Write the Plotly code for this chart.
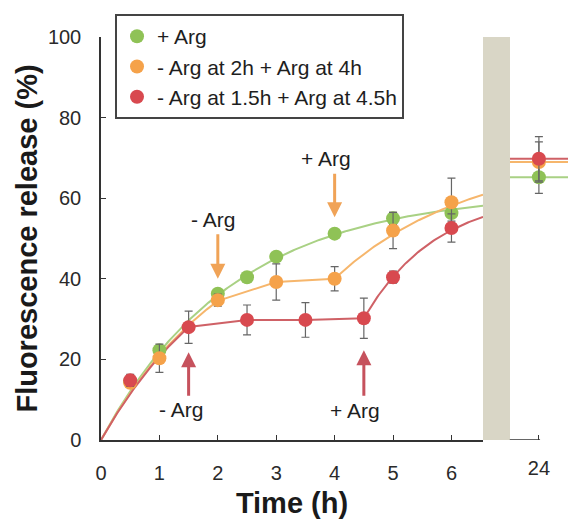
import numpy as np
import plotly.graph_objects as go

# ---- measured release (%) ----
T_PLUS = [0.5, 1, 2, 2.5, 3, 4, 5, 6]
V_PLUS = [14.5, 22.3, 36.3, 40.4, 45.5, 51.2, 55.0, 56.3]
E_PLUS = [1.0, 1.0, 1.0, 1.0, 1.0, 1.0, 1.5, 2.0]

T_2H = [0.5, 1, 2, 3, 4, 5, 6]
V_2H = [14.2, 20.3, 34.7, 39.2, 40.0, 52.0, 59.0]
E_2H = [1.0, 3.5, 1.5, 4.5, 3.0, 4.5, 6.0]

T_15H = [0.5, 1.5, 2.5, 3.5, 4.5, 5, 6]
V_15H = [14.8, 28.0, 29.8, 29.8, 30.2, 40.4, 52.6]
E_15H = [1.5, 4.0, 3.7, 4.3, 5.0, 1.5, 3.5]

# 24 h end points
V24 = {"plus": 65.2, "2h": 69.0, "15h": 69.8}
E24 = {"plus": 4.0, "2h": 5.0, "15h": 5.5}

NAMES = {"plus": "+ Arg",
         "2h": "- Arg at 2h + Arg at 4h",
         "15h": "- Arg at 1.5h + Arg at 4.5h"}

# fitted first-order release model: plateau A, rate k (1/h)
RISE = {"plus": (61.7, 0.437), "2h": (59.0, 0.44), "15h": (58.0, 0.44)}
RESUME = {"2h": (71.0, 0.44), "15h": (61.5, 0.80)}
STOP = {"2h": 2.0, "15h": 1.5}      # arginine removed
RESTART = {"2h": 4.0, "15h": 4.5}   # arginine added back

# arrows: (time, label, tip value, shaft px, label shift px, colour key)
EVENTS = [
    (2.0, "- Arg", 40.0, -46, (-5, 59), "2h"),
    (4.0, "+ Arg", 55.3, -45, (-9, 59), "2h"),
    (1.5, "- Arg", 21.8, 45, (-8, -57), "15h"),
    (4.5, "+ Arg", 22.3, 47, (-9, -60), "15h"),
]

MARKER = {"plus": "#8fc256", "2h": "#f5a24a", "15h": "#d8494f"}
LINE = {"plus": "#a9d184", "2h": "#f6b66c", "15h": "#cf6166"}
ARROW = {"2h": "#f0a357", "15h": "#c6525d"}

X_END = 6.54
FONT = "Arial, Liberation Sans, Helvetica, sans-serif"


def rise(key, t):
    a, k = RISE[key]
    return a * (1 - np.exp(-k * t))


def resume(key, t, t0, v0):
    a, k = RESUME[key]
    return a - (a - v0) * np.exp(-k * (t - t0))


def curve(key, t_pts, v_pts):
    if key == "plus":
        t = np.linspace(0, X_END, 200)
        return t, rise(key, t)
    t_stop, t_re = STOP[key], RESTART[key]
    t1 = np.linspace(0, t_stop, 80)
    y1 = rise(key, t1)
    mid_t = [t for t in t_pts if t_stop < t <= t_re]
    mid_v = [v for t, v in zip(t_pts, v_pts) if t_stop < t <= t_re]
    v_re = mid_v[-1]
    t2 = np.linspace(t_re, X_END, 80)
    y2 = resume(key, t2, t_re, v_re)
    return (np.concatenate([t1, mid_t[:-1], t2]),
            np.concatenate([y1, mid_v[:-1], y2]))


series = [("plus", T_PLUS, V_PLUS, E_PLUS),
          ("2h", T_2H, V_2H, E_2H),
          ("15h", T_15H, V_15H, E_15H)]

fig = go.Figure()

for key, t, v, e in series:
    cx, cy = curve(key, t, v)
    fig.add_trace(go.Scatter(x=cx, y=cy, mode="lines", showlegend=False,
                             line=dict(color=LINE[key], width=2),
                             hoverinfo="skip", xaxis="x", yaxis="y"))

for key, t, v, e in series:
    fig.add_trace(go.Scatter(
        x=t, y=v, mode="markers", name=NAMES[key], legendgroup=key,
        marker=dict(color=MARKER[key], size=14, line=dict(width=0)),
        error_y=dict(type="data", array=e, visible=True, color="#666666",
                     thickness=1.2, width=4),
        xaxis="x", yaxis="y"))

for key, *_ in series:
    fig.add_trace(go.Scatter(
        x=[24], y=[V24[key]], mode="markers", showlegend=False,
        legendgroup=key,
        marker=dict(color=MARKER[key], size=14, line=dict(width=0)),
        error_y=dict(type="data", array=[E24[key]], visible=True,
                     color="#666666", thickness=1.2, width=4),
        error_x=dict(type="constant", value=0.52, visible=True,
                     color=LINE[key], thickness=2, width=0),
        xaxis="x2", yaxis="y"))

for t, label, tip, shaft, (dx, dy), key in EVENTS:
    # vertical arrow pointing at the event time
    fig.add_annotation(x=t, y=tip, xref="x", yref="y", text="",
                       showarrow=True, ax=0, ay=shaft, arrowhead=2,
                       arrowsize=1.0, arrowwidth=3,
                       arrowcolor=ARROW[key], standoff=0, startstandoff=0)
    # label beyond the arrow tail
    fig.add_annotation(x=t, y=tip, xref="x", yref="y", text=label,
                       showarrow=False, xshift=dx, yshift=dy,
                       font=dict(family=FONT, size=21, color="#1e1e1e"))

split = 0.818
bar_end = 0.8758

# axis break band
fig.add_shape(type="rect", xref="paper", yref="paper",
              x0=split, x1=bar_end, y0=0, y1=1,
              fillcolor="#d9d6c6", line=dict(width=0), layer="above")
# short axis stub under the 24 h point
fig.add_shape(type="line", xref="x2", yref="y", x0=23.5, x1=24.02,
              y0=0, y1=0, line=dict(color="#333333", width=1.5))

tick_font = dict(family=FONT, size=20, color="#2a2a2a")
title_font = dict(family=FONT, size=29, color="#1a1a1a")

fig.update_layout(
    width=568, height=522,
    margin=dict(l=101, r=0, t=37, b=82),
    paper_bgcolor="white", plot_bgcolor="white",
    showlegend=True,
    legend=dict(x=0.03, y=1.057, xanchor="left", yanchor="top",
                bgcolor="white", bordercolor="#444444", borderwidth=2,
                font=dict(family=FONT, size=21, color="#1e1e1e"),
                tracegroupgap=0),
    xaxis=dict(domain=[0, split], range=[0, X_END], dtick=1, tick0=0,
               showline=True, linecolor="#333333", linewidth=1.5,
               ticks="inside", ticklen=5, tickcolor="#333333",
               showgrid=False, zeroline=False, tickfont=tick_font,
               ticklabelstandoff=14, automargin=False,
               title=dict(text="<b>Time (h)</b>", font=title_font,
                          standoff=10)),
    xaxis2=dict(domain=[split, 1], range=[23.04, 24.5], tickvals=[24],
                showline=False, ticks="inside", ticklen=5,
                tickcolor="#333333", showgrid=False, zeroline=False,
                tickfont=tick_font, ticklabelstandoff=14, anchor="y",
                automargin=False),
    yaxis=dict(range=[0, 100], dtick=20, showline=True,
               linecolor="#333333", linewidth=1.5, ticks="inside",
               ticklen=5, tickcolor="#333333", showgrid=False,
               zeroline=False, tickfont=tick_font, ticklabelstandoff=14,
               automargin=False,
               title=dict(text="<b>Fluorescence release (%)</b>",
                          font=title_font, standoff=2)),
)

fig.write_html("out.html")
